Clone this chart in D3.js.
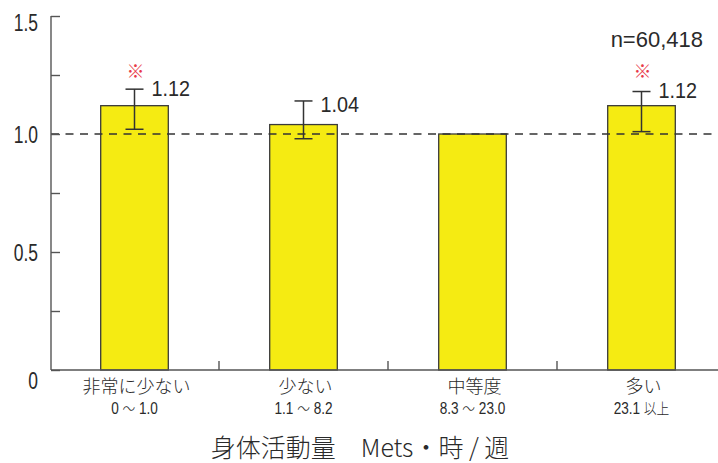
<!DOCTYPE html>
<html lang="ja">
<head>
<meta charset="utf-8">
<script src="https://cdn.jsdelivr.net/npm/d3@7/dist/d3.min.js"></script>
<style>
  html, body { margin: 0; padding: 0; background: #fff; }
  svg { display: block; }
  .num { font-family: "Liberation Sans", Arial, sans-serif; fill: #2a2a2a; }
  .jp { font-family: "Noto Sans CJK JP", "Noto Sans", sans-serif; fill: #2a2a2a; font-weight: 300; }
</style>
</head>
<body>
<svg id="chart" width="718" height="463"></svg>
<script>
// Relative risk by weekly physical activity level
const categories = ["非常に少ない", "少ない", "中等度", "多い"];
const ranges = ["0 ～ 1.0", "1.1 ～ 8.2", "8.3 ～ 23.0", "23.1 以上"];
const values = [1.12, 1.04, 1.00, 1.12];
const ciLow = [1.02, 0.98, null, 1.01];
const ciHigh = [1.19, 1.14, null, 1.18];
const significant = [true, false, false, true];
const valueLabels = ["1.12", "1.04", null, "1.12"];
const yMajorTicks = [0, 0.5, 1.0, 1.5];
const yMinorTicks = [0.25, 0.75, 1.25];
const sampleNote = "n=60,418";
const xTitle = "身体活動量　Mets・時 / 週";

const svg = d3.select("#chart");
const axisColor = "#555";

const x = d3.scaleBand().domain(categories).range([50, 726]).padding(0);
const y = d3.scaleLinear().domain([0, 1.5]).range([370, 16]);
const barW = x.bandwidth() * 0.4;
const cx = c => x(c) + x.bandwidth() / 2;

// bars
svg.append("g").selectAll("rect").data(categories).join("rect")
  .attr("x", c => cx(c) - barW / 2)
  .attr("width", barW)
  .attr("y", (c, i) => y(values[i]))
  .attr("height", (c, i) => y(0) - y(values[i]))
  .attr("fill", "#f5eb12")
  .attr("stroke", "#3a3a3a")
  .attr("stroke-width", 1.3);

// reference line at 1.0
svg.append("line")
  .attr("x1", 51).attr("x2", 718)
  .attr("y1", y(1)).attr("y2", y(1))
  .attr("stroke", "#333").attr("stroke-width", 1.5)
  .attr("stroke-dasharray", "8,6.5");

// error bars
const eb = svg.append("g").attr("stroke", "#333").attr("stroke-width", 1.5);
categories.forEach((c, i) => {
  if (ciLow[i] == null) return;
  const xc = cx(c);
  eb.append("line").attr("x1", xc).attr("x2", xc).attr("y1", y(ciLow[i])).attr("y2", y(ciHigh[i]));
  eb.append("line").attr("x1", xc - 9).attr("x2", xc + 9).attr("y1", y(ciHigh[i])).attr("y2", y(ciHigh[i]));
  eb.append("line").attr("x1", xc - 9).attr("x2", xc + 9).attr("y1", y(ciLow[i])).attr("y2", y(ciLow[i]));
});

// value labels and significance marks
categories.forEach((c, i) => {
  if (valueLabels[i]) {
    svg.append("text").attr("class", "num")
      .attr("transform", `translate(${cx(c) + 17},${(y(ciHigh[i]) + y(values[i])) / 2 - 1}) scale(0.9,1)`)
      .attr("font-size", 22)
      .text(valueLabels[i]);
  }
  if (significant[i]) {
    svg.append("text").attr("class", "jp")
      .attr("x", cx(c) + 1)
      .attr("y", 78)
      .attr("text-anchor", "middle")
      .attr("font-size", 18)
      .style("fill", "#e8394a")
      .text("※");
  }
});

// y axis
const yAxis = d3.axisRight(y)
  .tickValues(yMajorTicks.concat(yMinorTicks))
  .tickSize(9)
  .tickFormat("");
const gy = svg.append("g").attr("transform", "translate(51,0)").call(yAxis);
gy.select(".domain").attr("stroke", axisColor).attr("stroke-width", 1.4).attr("d", `M0,${y(1.5)}V${y(0)}`);
gy.selectAll(".tick line").attr("stroke", axisColor).attr("stroke-width", 1.4);

svg.append("g").selectAll("text").data(yMajorTicks).join("text")
  .attr("class", "num")
  .attr("transform", d => `translate(38,${y(d) + (d === 0 ? 11 : (d === 1.5 ? 7 : 1.5))}) scale(0.76,1)`)
  .attr("dominant-baseline", "central")
  .attr("text-anchor", "end")
  .attr("font-size", 23)
  .text(d => d === 0 ? "0" : d3.format(".1f")(d));

// x axis with separators between categories
svg.append("line")
  .attr("x1", 51).attr("x2", 718).attr("y1", y(0)).attr("y2", y(0))
  .attr("stroke", axisColor).attr("stroke-width", 1.4);
svg.append("g").selectAll("line").data(categories.slice(1)).join("line")
  .attr("x1", c => x(c)).attr("x2", c => x(c))
  .attr("y1", y(0)).attr("y2", y(0) - 9)
  .attr("stroke", axisColor).attr("stroke-width", 1.4);

// category labels: name, then the Mets range
const cl = svg.append("g").attr("text-anchor", "middle");
categories.forEach((c, i) => {
  cl.append("text").attr("class", "jp").attr("x", cx(c) + 2).attr("y", 393)
    .attr("font-size", 18).text(c);
  const t = cl.append("text").attr("class", "num")
    .attr("transform", `translate(${cx(c)},414) scale(0.85,1)`)
    .attr("font-size", 16);
  ranges[i].split(/(～|以上)/).filter(s => s.length).forEach(part => {
    const sp = t.append("tspan").text(part);
    if (part === "～" || part === "以上") sp.attr("class", "jp").attr("font-size", 15);
  });
});

// sample size
svg.append("text").attr("class", "num")
  .attr("x", 703).attr("y", 47).attr("text-anchor", "end")
  .attr("font-size", 22).text(sampleNote);

// axis title
svg.append("text").attr("class", "jp")
  .attr("x", 360).attr("y", 457).attr("text-anchor", "middle")
  .attr("font-size", 25).text(xTitle);
</script>
</body>
</html>
